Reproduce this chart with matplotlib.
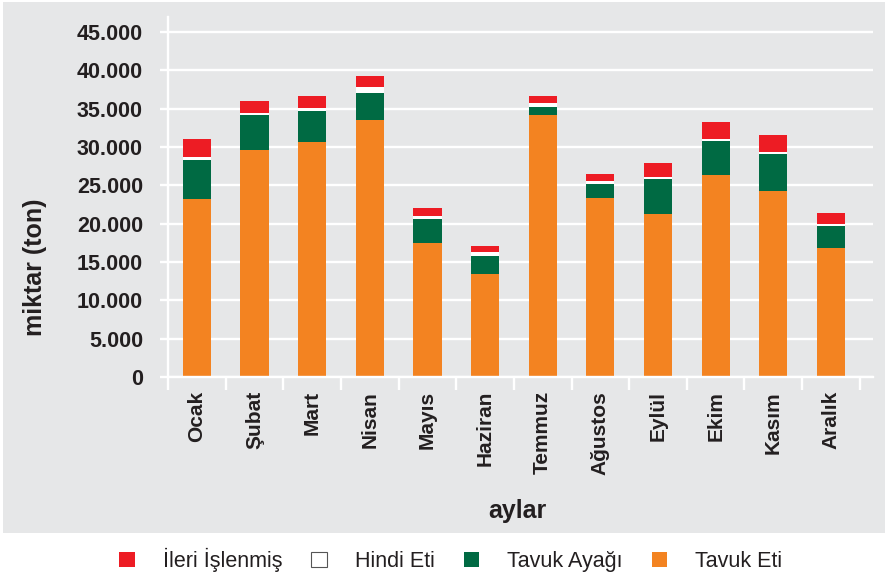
import matplotlib
matplotlib.use("Agg")
import matplotlib.pyplot as plt
import numpy as np
from matplotlib.patches import Patch, Rectangle
from matplotlib.ticker import FuncFormatter, FixedLocator

plt.rcParams['font.family'] = ['Liberation Sans', 'DejaVu Sans']

aylar = ["Ocak", "Şubat", "Mart", "Nisan", "Mayıs", "Haziran",
         "Temmuz", "Ağustos", "Eylül", "Ekim", "Kasım", "Aralık"]
# ton
tavuk_eti = [23200, 29600, 30600, 33500, 17500, 13400, 34200, 23300, 21300, 26300, 24300, 16800]
tavuk_ayagi = [5100, 4600, 4100, 3500, 3100, 2400, 1000, 1900, 4500, 4500, 4800, 2900]
hindi_eti = [400, 200, 400, 800, 400, 500, 500, 400, 300, 200, 200, 200]
ileri_islenmis = [2300, 1600, 1500, 1400, 1000, 800, 900, 900, 1800, 2200, 2300, 1500]

BG = "#e6e7e8"
TXT = "#231f20"
C_ORANGE = "#f38321"
C_GREEN = "#006a43"
C_RED = "#ed1c24"

fig = plt.figure(figsize=(8.85, 5.8), dpi=100)
fig.patch.set_facecolor("white")
# gri panel
fig.patches.append(Rectangle((3 / 885, 1 - 533 / 580), 1, 531 / 580,
                             transform=fig.transFigure, facecolor=BG,
                             edgecolor="none", zorder=-10))

ax = fig.add_axes([168 / 885, 1 - 377 / 580, (873 - 168) / 885, 360 / 580])
ax.set_facecolor(BG)

x = np.arange(len(aylar))
w = 0.49
b1 = np.array(tavuk_eti)
b2 = b1 + np.array(tavuk_ayagi)
b3 = b2 + np.array(hindi_eti)
ax.bar(x, tavuk_eti, w, color=C_ORANGE, zorder=3)
ax.bar(x, tavuk_ayagi, w, bottom=b1, color=C_GREEN, zorder=3)
ax.bar(x, hindi_eti, w, bottom=b2, color="white", zorder=3)
ax.bar(x, ileri_islenmis, w, bottom=b3, color=C_RED, zorder=3)

ax.set_xlim(-0.5, 11.73)
ax.set_ylim(0, 46950)
ax.set_yticks(np.arange(0, 45001, 5000))
ax.yaxis.set_major_formatter(FuncFormatter(lambda v, p: f"{int(v):,}".replace(",", ".")))
ax.grid(axis="y", color="white", linewidth=1.7, zorder=1)

for s in ["top", "right"]:
    ax.spines[s].set_visible(False)
for s in ["left", "bottom"]:
    ax.spines[s].set_color("white")
    ax.spines[s].set_linewidth(1.7)
    ax.spines[s].set_zorder(4)

ax.tick_params(axis="y", colors="white", length=6, width=1.7, pad=12,
               labelcolor=TXT, labelsize=15.5)
for t in ax.get_yticklabels():
    t.set_fontweight("bold")

ax.set_xticks(x)
ax.set_xticklabels(aylar, rotation=90, fontsize=15, fontweight="bold", color=TXT,
                   va="top", ha="center")
ax.tick_params(axis="x", which="major", length=0, pad=10)
ax.xaxis.set_minor_locator(FixedLocator(np.arange(-0.5, 12, 1.0)))
ax.tick_params(axis="x", which="minor", length=9.5, width=1.7, color="white")

ax.set_xlabel("aylar", fontsize=18, fontweight="bold", color=TXT)
ax.xaxis.set_label_coords(0.496, -0.34)
fig.text(35 / 885, 1 - 267 / 580, "miktar (ton)", rotation=90, ha="center",
         va="center", fontsize=18, fontweight="bold", color=TXT)

handles = [Patch(facecolor=C_RED, edgecolor="none"),
           Patch(facecolor="white", edgecolor="#555555", linewidth=0.8),
           Patch(facecolor=C_GREEN, edgecolor="none"),
           Patch(facecolor=C_ORANGE, edgecolor="none")]
labels = ["İleri İşlenmiş", "Hindi Eti", "Tavuk Ayağı", "Tavuk Eti"]
leg = fig.legend(handles, labels, loc="center", bbox_to_anchor=(451 / 885, 1 - 560 / 580),
                 ncol=4, frameon=False, fontsize=15.5, handlelength=0.72,
                 handleheight=0.75, handletextpad=1.3, columnspacing=1.35)
for t in leg.get_texts():
    t.set_color(TXT)

fig.savefig("out.png", dpi=100, facecolor=fig.get_facecolor())
